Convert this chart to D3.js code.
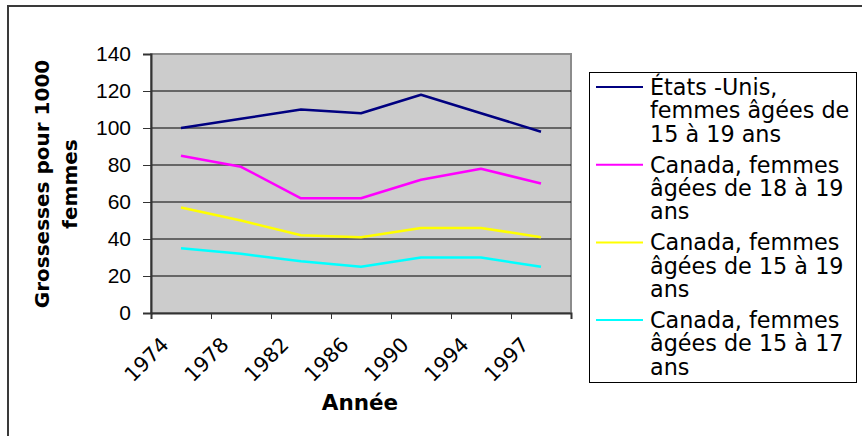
<!DOCTYPE html>
<html>
<head>
<meta charset="utf-8">
<script src="https://cdnjs.cloudflare.com/ajax/libs/d3/7.8.5/d3.min.js"></script>
<style>
  body { margin: 0; background: #fff; }
  svg { display: block; font-family: "DejaVu Sans", Verdana, sans-serif; }
</style>
</head>
<body>
<svg id="chart" width="862" height="436"></svg>
<script>
// data
var years = ["1974", "1978", "1982", "1986", "1990", "1994", "1997"];
var usa1519 = [100, 105, 110, 108, 118, 108, 98];
var can1819 = [85, 79, 62, 62, 72, 78, 70];
var can1519 = [57, 50, 42, 41, 46, 46, 41];
var can1517 = [35, 32, 28, 25, 30, 30, 25];
var yTicks = [0, 20, 40, 60, 80, 100, 120, 140];
var legendLabels = [
  ["États -Unis,", "femmes âgées de", "15 à 19 ans"],
  ["Canada, femmes", "âgées de 18 à 19", "ans"],
  ["Canada, femmes", "âgées de 15 à 19", "ans"],
  ["Canada, femmes", "âgées de 15 à 17", "ans"]
];
var colors = ["#000080", "#ff00ff", "#ffff00", "#00ffff"];

var series = [usa1519, can1819, can1519, can1517].map(function(vals, i) {
  return { values: vals, color: colors[i], label: legendLabels[i] };
});

var svg = d3.select("#chart");
var plot = { left: 151, right: 571, top: 54, bottom: 313 };

// outer frame (cut off at right / bottom in the original)
svg.append("rect")
  .attr("x", 8).attr("y", 6).attr("width", 900).attr("height", 500)
  .attr("fill", "none").attr("stroke", "#3a3a3a").attr("stroke-width", 2);

var x = d3.scaleBand().domain(years).range([plot.left, plot.right]);
var xEdge = d3.scaleLinear().domain([0, years.length]).range([plot.left, plot.right]);
var y = d3.scaleLinear().domain([0, 140]).range([plot.bottom, plot.top]);

// plot area
svg.append("rect")
  .attr("x", plot.left).attr("y", plot.top)
  .attr("width", plot.right - plot.left).attr("height", plot.bottom - plot.top)
  .attr("fill", "#cccccc").attr("stroke", "#8c8c8c").attr("stroke-width", 2);

// gridlines
svg.append("g").selectAll("line")
  .data(yTicks.filter(function(d) { return d > 0 && d < 140; }))
  .enter().append("line")
  .attr("x1", plot.left).attr("x2", plot.right)
  .attr("y1", function(d) { return y(d); }).attr("y2", function(d) { return y(d); })
  .attr("stroke", "#000").attr("stroke-width", 1);

// y axis
var yAxis = svg.append("g")
  .attr("transform", "translate(" + plot.left + ",0)")
  .call(d3.axisLeft(y).tickValues(yTicks).tickSize(8).tickPadding(12));
yAxis.select(".domain").attr("stroke", "#333").attr("stroke-width", 2);
yAxis.selectAll(".tick line").attr("stroke", "#333");
yAxis.selectAll("text").attr("font-size", "21px").attr("fill", "#000");

// x axis: tick marks on the category edges
var xAxis = svg.append("g")
  .attr("transform", "translate(0," + plot.bottom + ")")
  .call(d3.axisBottom(xEdge).ticks(years.length).tickSize(6).tickFormat(""));
xAxis.select(".domain").attr("stroke", "#333").attr("stroke-width", 2);
xAxis.selectAll(".tick line").attr("stroke", "#333");

svg.append("g").selectAll("text")
  .data(years)
  .enter().append("text")
  .attr("transform", function(d) {
    return "translate(" + (x(d) + x.bandwidth() / 2 - 11) + "," + (plot.bottom + 33) + ") rotate(-45)";
  })
  .attr("text-anchor", "end")
  .attr("font-size", "20.5px")
  .text(function(d) { return d; });

// lines
var line = d3.line()
  .x(function(d, i) { return x(years[i]) + x.bandwidth() / 2; })
  .y(function(d) { return y(d); });

svg.append("g").selectAll("path")
  .data(series)
  .enter().append("path")
  .attr("d", function(d) { return line(d.values); })
  .attr("fill", "none")
  .attr("stroke", function(d) { return d.color; })
  .attr("stroke-width", 2.5)
  .attr("stroke-linejoin", "round");

// axis titles
var yTitle = svg.append("text")
  .attr("transform", "translate(56,184) rotate(-90)")
  .attr("text-anchor", "middle")
  .attr("font-weight", "bold")
  .attr("font-size", "20px");
yTitle.append("tspan").attr("x", 0).attr("y", -7).text("Grossesses pour 1000");
yTitle.append("tspan").attr("x", 0).attr("y", 21).text("femmes");

svg.append("text")
  .attr("x", 360).attr("y", 410)
  .attr("text-anchor", "middle")
  .attr("font-weight", "bold")
  .attr("font-size", "21.5px")
  .text("Année");

// legend
var legend = svg.append("g");
legend.append("rect")
  .attr("x", 589.5).attr("y", 72.5).attr("width", 267).attr("height", 310)
  .attr("fill", "#fff").attr("stroke", "#000").attr("stroke-width", 1);

var item = legend.selectAll(".item")
  .data(series)
  .enter().append("g")
  .attr("class", "item")
  .attr("transform", function(d, i) { return "translate(0," + (87 + i * 77.7) + ")"; });

item.append("line")
  .attr("x1", 596).attr("x2", 643)
  .attr("stroke", function(d) { return d.color; })
  .attr("stroke-width", 2);

item.append("text")
  .attr("font-size", "22.3px")
  .selectAll("tspan")
  .data(function(d) { return d.label; })
  .enter().append("tspan")
  .attr("x", 650)
  .attr("y", function(d, i) { return 8 + i * 23.3; })
  .text(function(d) { return d; });
</script>
</body>
</html>
